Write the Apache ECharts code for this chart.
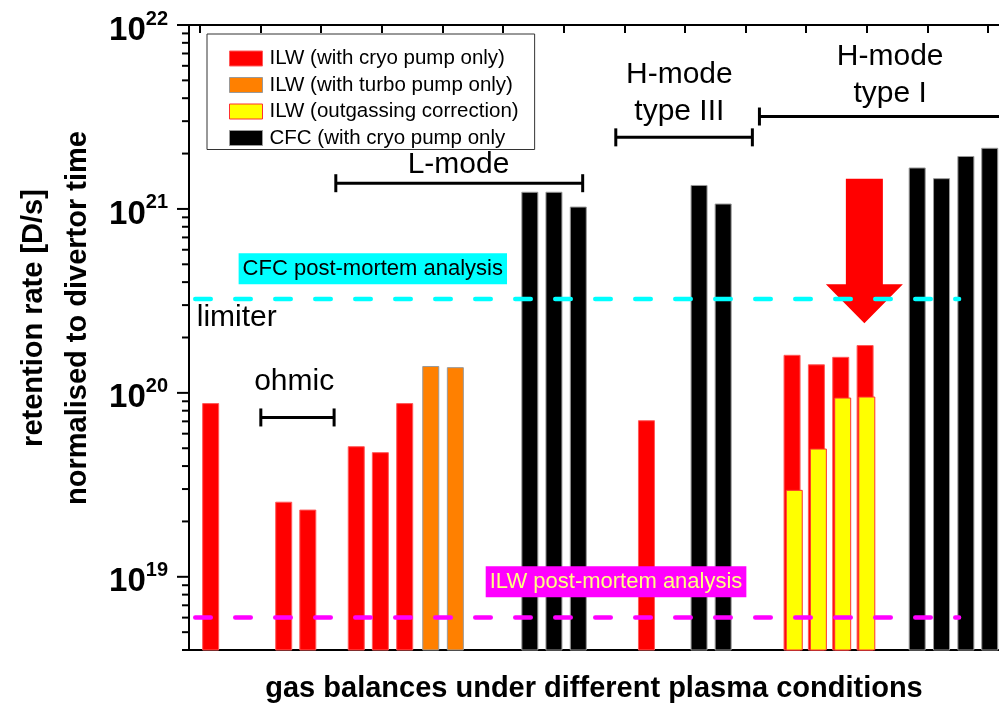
<!DOCTYPE html>
<html>
<head>
<meta charset="utf-8">
<script src="https://cdn.jsdelivr.net/npm/echarts@6/dist/echarts.min.js"></script>
<style>
  html, body { margin: 0; padding: 0; background: #fff; }
  #chart { width: 999px; height: 705px; }
</style>
</head>
<body>
<div id="chart"></div>
<script>
// bar slots along the x axis and retention rates [D/s]
const cryoPos = [0.89, 3.89, 4.88, 6.87, 7.86, 8.86, 18.79, 24.77, 25.77, 26.77, 27.77];
const cryoRate = [8.8e19, 2.56e19, 2.32e19, 5.13e19, 4.76e19, 8.8e19, 7.1e19, 1.61e20, 1.43e20, 1.57e20, 1.82e20];
const turboPos = [9.93, 10.94];
const turboRate = [1.40e20, 1.38e20];
const outgasPos = [24.86, 25.85, 26.85, 27.84];
const outgasRate = [2.97e19, 4.98e19, 9.43e19, 9.55e19];
const cfcPos = [14.0, 14.99, 15.99, 20.95, 21.94, 29.91, 30.91, 31.91, 32.89];
const cfcRate = [1.24e21, 1.24e21, 1.03e21, 1.35e21, 1.07e21, 1.68e21, 1.47e21, 1.94e21, 2.15e21];

const seriesNames = ['ILW (with cryo pump only)', 'ILW (with turbo pump only)', 'ILW (outgassing correction)', 'CFC (with cryo pump only'];

// post-mortem reference levels
const cfcPostMortem = 3.24e20;
const ilwPostMortem = 6.0e18;
const refLineEnd = 31.63;

// y axis ticks
const majorTicks = [1e19, 1e20, 1e21, 1e22];
const minorTicks = [4e18, 5e18, 6e18, 7e18, 8e18, 9e18,
  2e19, 3e19, 4e19, 5e19, 6e19, 7e19, 8e19, 9e19,
  2e20, 3e20, 4e20, 5e20, 6e20, 7e20, 8e20, 9e20,
  2e21, 3e21, 4e21, 5e21, 6e21, 7e21, 8e21, 9e21];

// plasma condition brackets: start, end, level
const bracketStart = [2.95, 6.03, 17.53, 23.43];
const bracketEnd = [5.96, 16.17, 23.14, 34];
const bracketLevel = [7.35e19, 1.38e21, 2.45e21, 3.18e21];
const groupLabels = ['ohmic', 'L-mode', 'H-mode\ntype III', 'H-mode\ntype I'];
const groupLabelX = [4.32, 11.07, 20.14, 28.80];
const groupLabelY = [1.156e20, 1.73e21, 4.27e21, 5.32e21];

// arrow: x, top, neck, tip
const arrow = [27.74, 1.46e21, 3.9e20, 2.39e20];

const FONT = '"Liberation Sans", Arial, sans-serif';
const chart = echarts.init(document.getElementById('chart'));

function pairs(xs, ys) {
  return xs.map((x, i) => [x, ys[i]]);
}

function tickSeries(values, len) {
  return {
    type: 'custom',
    silent: true,
    z: 6,
    data: values.map(v => [0, v]),
    renderItem: (params, api) => {
      const p = api.coord([0, api.value(1)]);
      return {
        type: 'line',
        shape: { x1: p[0] - len, y1: p[1], x2: p[0], y2: p[1] },
        style: { stroke: '#000', lineWidth: 2 }
      };
    }
  };
}

function refLine(level, color) {
  return {
    type: 'custom',
    silent: true,
    z: 5,
    data: [[0, refLineEnd, level]],
    encode: { x: [0, 1], y: 2 },
    renderItem: (params, api) => {
      const a = api.coord([api.value(0), api.value(2)]);
      const b = api.coord([api.value(1), api.value(2)]);
      return {
        type: 'line',
        shape: { x1: a[0], y1: a[1], x2: b[0], y2: b[1] },
        style: { stroke: color, lineWidth: 4.5, lineDash: [15.5, 24.5], lineDashOffset: 33.75, lineCap: 'round' }
      };
    }
  };
}

function boxLabel(text, x, y, bg, fg) {
  return {
    type: 'custom',
    silent: true,
    z: 7,
    data: [[x, y]],
    renderItem: (params, api) => {
      const p = api.coord([api.value(0), api.value(1)]);
      return {
        type: 'text',
        x: p[0], y: p[1],
        style: {
          text: text, fill: fg, backgroundColor: bg, padding: [5, 4, 4, 4],
          font: '22px ' + FONT, align: 'center', verticalAlign: 'middle'
        }
      };
    }
  };
}

const option = {
  animation: false,
  textStyle: { fontFamily: FONT },
  grid: [
    { left: 189, right: 0, top: 25, bottom: 55, outerBoundsMode: 'none' },
    { left: 200, right: 11, top: 25, bottom: 55, outerBoundsMode: 'none' }
  ],
  legend: {
    data: seriesNames,
    orient: 'vertical',
    left: 207, top: 34,
    padding: [14, 16, 1, 22],
    itemWidth: 33, itemHeight: 15, itemGap: 5.5,
    icon: 'rect',
    borderColor: '#333', borderWidth: 1,
    itemStyle: { borderWidth: 1 },
    textStyle: { fontSize: 20.5, color: '#000', fontFamily: FONT, padding: [0, 0, 0, 2] },
    selectedMode: false
  },
  xAxis: [
    {
      type: 'value', gridIndex: 0, min: 0, max: 33.27,
      axisLine: { onZero: false, lineStyle: { color: '#000', width: 2 } },
      axisTick: { show: false }, axisLabel: { show: false }, splitLine: { show: false },
      name: 'gas balances under different plasma conditions',
      nameLocation: 'middle', nameGap: 24,
      nameTextStyle: { fontSize: 29, fontWeight: 'bold', color: '#000', fontFamily: FONT }
    },
    {
      type: 'value', gridIndex: 0, position: 'top', min: 0, max: 33.27,
      axisLine: { onZero: false, lineStyle: { color: '#000', width: 2 } },
      axisTick: { show: false }, axisLabel: { show: false }, splitLine: { show: false }
    },
    {
      type: 'value', gridIndex: 1, position: 'top', min: 0, max: 13, interval: 1,
      axisLine: { show: false, onZero: false },
      axisTick: { inside: true, length: 8, lineStyle: { color: '#000', width: 2 } },
      axisLabel: { show: false }, splitLine: { show: false }
    }
  ],
  yAxis: [
    {
      type: 'log', logBase: 10, gridIndex: 0, min: 4e18, max: 1e22,
      axisLine: { show: true, onZero: false, lineStyle: { color: '#000', width: 2 } },
      axisTick: { show: false }, splitLine: { show: false },
      axisLabel: {
        margin: 21,
        formatter: v => {
          const e = Math.log10(v);
          if (Math.abs(e - Math.round(e)) > 1e-6) return '';
          return '{a|10}{b|' + Math.round(e) + '}';
        },
        rich: {
          a: { fontSize: 33, fontWeight: 'bold', color: '#000', fontFamily: FONT, lineHeight: 48, padding: [11, 0, 0, 0] },
          b: { fontSize: 20, fontWeight: 'bold', color: '#000', fontFamily: FONT, lineHeight: 20, padding: [8, 0, 0, 0], verticalAlign: 'top' }
        }
      }
    },
    { type: 'value', gridIndex: 1, show: false, min: 0, max: 1 }
  ],
  graphic: [{
    type: 'text', x: 56, y: 318, rotation: Math.PI / 2,
    style: {
      text: 'retention rate [D/s]\nnormalised to divertor time',
      font: 'bold 29px ' + FONT, fill: '#000',
      align: 'center', verticalAlign: 'middle', lineHeight: 44
    }
  }],
  series: [
    {
      name: seriesNames[0], type: 'bar', data: pairs(cryoPos, cryoRate),
      barWidth: 17, barGap: '-100%', z: 2,
      itemStyle: { color: '#ff0000', borderColor: '#ff5a5a', borderWidth: 1 }
    },
    {
      name: seriesNames[1], type: 'bar', data: pairs(turboPos, turboRate),
      barWidth: 17, barGap: '-100%', z: 2,
      itemStyle: { color: '#ff8000', borderColor: '#999999', borderWidth: 1 }
    },
    {
      name: seriesNames[2], type: 'bar', data: pairs(outgasPos, outgasRate),
      barWidth: 17, barGap: '-100%', z: 2,
      itemStyle: { color: '#ffff00', borderColor: '#ff3030', borderWidth: 1 }
    },
    {
      name: seriesNames[3], type: 'bar', data: pairs(cfcPos, cfcRate),
      barWidth: 17, barGap: '-100%', z: 2,
      itemStyle: { color: '#000000', borderColor: '#999999', borderWidth: 1 }
    },
    tickSeries(majorTicks, 12),
    tickSeries(minorTicks, 7),
    {
      type: 'custom', silent: true, z: 3,
      data: [arrow],
      renderItem: (params, api) => {
        const top = api.coord([api.value(0), api.value(1)]);
        const neck = api.coord([api.value(0), api.value(2)]);
        const tip = api.coord([api.value(0), api.value(3)]);
        const cx = top[0];
        return {
          type: 'polygon',
          shape: { points: [
            [cx - 18.5, top[1]], [cx + 18.5, top[1]], [cx + 18.5, neck[1]], [cx + 38.5, neck[1]],
            [cx, tip[1]], [cx - 38.5, neck[1]], [cx - 18.5, neck[1]]
          ] },
          style: { fill: '#ff0000' }
        };
      }
    },
    refLine(cfcPostMortem, '#00ffff'),
    refLine(ilwPostMortem, '#ff00ff'),
    {
      type: 'custom', silent: true, z: 4,
      data: bracketStart.map((s, i) => [s, bracketEnd[i], bracketLevel[i]]),
      encode: { x: [0, 1], y: 2 },
      renderItem: (params, api) => {
        const a = api.coord([api.value(0), api.value(2)]);
        const b = api.coord([api.value(1), api.value(2)]);
        const st = { stroke: '#000', lineWidth: 3 };
        return {
          type: 'group',
          children: [
            { type: 'line', shape: { x1: a[0], y1: a[1], x2: b[0], y2: b[1] }, style: st },
            { type: 'line', shape: { x1: a[0], y1: a[1] - 9, x2: a[0], y2: a[1] + 9 }, style: st },
            { type: 'line', shape: { x1: b[0], y1: b[1] - 9, x2: b[0], y2: b[1] + 9 }, style: st }
          ]
        };
      }
    },
    {
      type: 'custom', silent: true, z: 4,
      data: groupLabelX.map((x, i) => [x, groupLabelY[i]]),
      renderItem: (params, api) => {
        const p = api.coord([api.value(0), api.value(1)]);
        return {
          type: 'text', x: p[0], y: p[1],
          style: {
            text: groupLabels[params.dataIndex], fill: '#000', font: '30px ' + FONT,
            align: 'center', verticalAlign: 'middle', lineHeight: 37
          }
        };
      }
    },
    {
      type: 'custom', silent: true, z: 4,
      data: [[0.32, 2.57e20]],
      renderItem: (params, api) => {
        const p = api.coord([api.value(0), api.value(1)]);
        return {
          type: 'text', x: p[0], y: p[1],
          style: { text: 'limiter', fill: '#000', font: '30px ' + FONT, align: 'left', verticalAlign: 'middle' }
        };
      }
    },
    boxLabel('CFC post-mortem analysis', 7.55, 4.73e20, '#00ffff', '#000'),
    boxLabel('ILW post-mortem analysis', 17.54, 9.4e18, '#ff00ff', '#ffff80')
  ]
};

chart.setOption(option);
</script>
</body>
</html>
